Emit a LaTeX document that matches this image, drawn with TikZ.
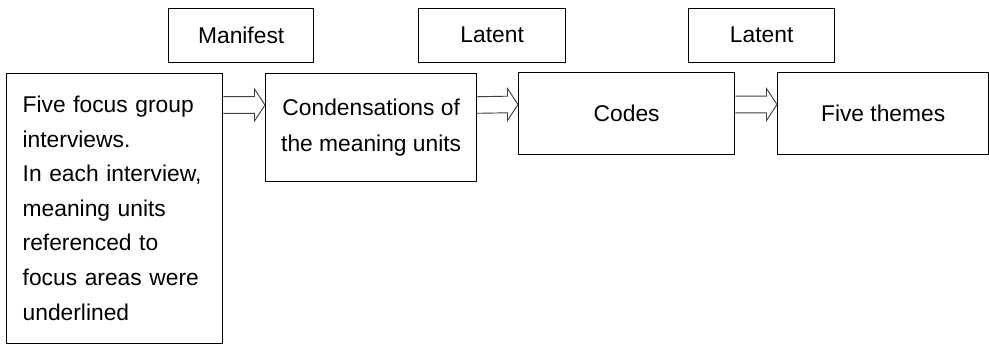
\documentclass[tikz,border=0pt]{standalone}
\usepackage{fontspec}
\setmainfont{Liberation Sans}
\usetikzlibrary{calc}

\tikzset{
  box/.style={draw=black, line width=1pt, fill=white, anchor=north west,
    inner sep=0pt, font=\fontsize{17.1pt}{25.95pt}\selectfont},
  blockline/.style={draw=black!75, line width=0.7pt, line join=miter},
}

% hollow block arrow from the right side of #1 to the left side of #2
\newcommand\blockarrow[2]{%
  \draw[blockline]
    ($(#1.north east)+(0,24.2)$) --
    ($(#2.north west)+(-10.5,24.2)$) --
    ($(#2.north west)+(-10.5,16.5)$) --
    ($(#2.north west)+(0,32.5)$) --
    ($(#2.north west)+(-10.5,48.5)$) --
    ($(#2.north west)+(-10.5,40.8)$) --
    ($(#1.north east)+(0,40.8)$);
}

\begin{document}
\begin{tikzpicture}[x=0.75pt, y=-0.75pt]
  \path[fill=white, use as bounding box] (0,0) rectangle (989,347);

  % stage labels
  \node[box, minimum width=108.75pt, minimum height=40.5pt] (manifest) at (168,7.5) {Manifest};
  \node[box, minimum width=110.25pt, minimum height=40.5pt] (latentA) at (418,7.5) {Latent};
  \node[box, minimum width=109.5pt, minimum height=40.5pt] (latentB) at (688,7.5) {Latent};

  % analysis steps
  \node[box, minimum width=162pt, minimum height=202.5pt, inner xsep=12pt,
        text width=138pt, align=left] (interviews) at (6,72.5)
    {Five focus group\\interviews.\\In each interview,\\meaning units\\referenced to\\focus areas were\\underlined};
  \node[box, minimum width=158.25pt, minimum height=81.4pt, align=center,
        font=\fontsize{17.1pt}{27pt}\selectfont] (condense) at (265,72.5)
    {\raisebox{-2pt}{Condensations of}\\\raisebox{-2pt}{the meaning units}};
  \node[box, minimum width=162pt, minimum height=61.5pt] (codes) at (518,72) {Codes};
  \node[box, minimum width=158.25pt, minimum height=61.5pt] (themes) at (777,72) {Five themes};

  \blockarrow{interviews}{condense}
  \blockarrow{condense}{codes}
  \blockarrow{codes}{themes}
\end{tikzpicture}
\end{document}
